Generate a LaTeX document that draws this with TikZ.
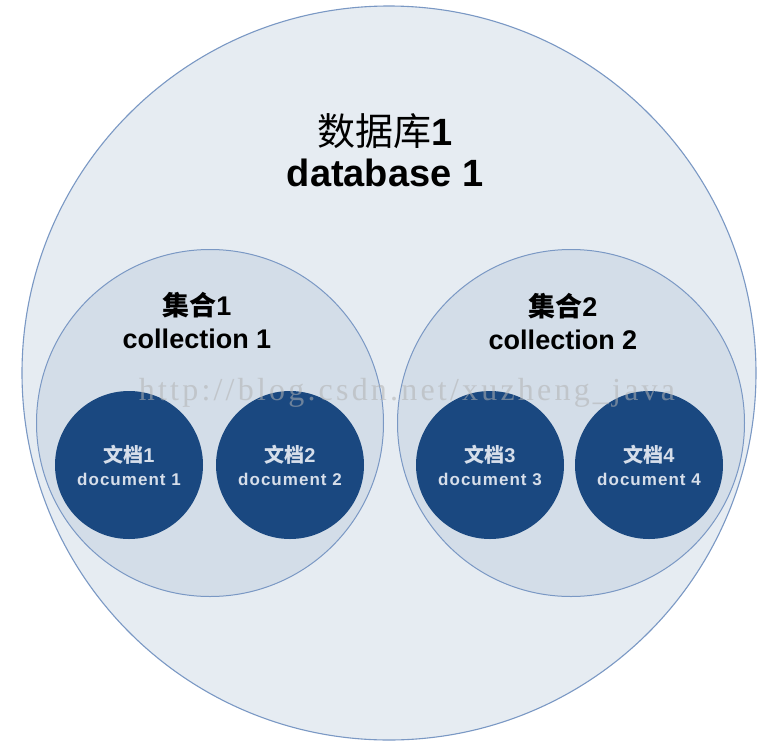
\documentclass[tikz,border=0pt]{standalone}
\usepackage{fontspec}
\setmainfont{Liberation Sans}
\newfontfamily\cjk{Noto Sans CJK SC}
\newfontfamily\docfont{Liberation Sans}[LetterSpace=6]
\newfontfamily\wmfont{Liberation Serif}[LetterSpace=10]
\usepackage{tikz}
\definecolor{dbfill}{HTML}{E6ECF2}
\definecolor{colfill}{HTML}{D3DDE8}
\definecolor{rim}{HTML}{7A98C4}
\definecolor{docfill}{HTML}{1A4880}
\definecolor{doctext}{HTML}{D6DEEA}
\tikzset{
  dbball/.style={circle, draw=rim, line width=1.1pt, fill=dbfill, minimum size=734pt},
  colball/.style={circle, draw=rim, line width=1pt, fill=colfill, minimum size=347pt},
  docball/.style={circle, fill=docfill, minimum size=148pt, inner sep=0pt,
    text=doctext, align=center, font=\fontsize{17}{23}\selectfont\docfont\bfseries},
  bigtitle/.style={font=\fontsize{38}{40}\selectfont\bfseries},
  coltitle/.style={font=\fontsize{27}{30}\selectfont\bfseries},
  watermark/.style={text=gray!60, opacity=0.55, font=\fontsize{32}{34}\selectfont\wmfont}
}

\begin{document}
\begin{tikzpicture}[x=1pt, y=-1pt]

  \useasboundingbox[fill=white] (0,0) rectangle (780,753);

  % database
  \node[dbball] (db) at (389,373) {};
  \node[bigtitle] (dbzh) at (385,131) {{\cjk\mdseries 数据库}1};
  \node[bigtitle] (dben) at (385,173) {database 1};

  % collections
  \node[colball] (col1) at (210,423) {};
  \node[colball] (col2) at (571,423) {};
  \node[coltitle] (col1zh) at (197,305) {{\cjk 集合}1};
  \node[coltitle] (col1en) at (197,339) {collection 1};
  \node[coltitle] (col2zh) at (563,306) {{\cjk 集合}2};
  \node[coltitle] (col2en) at (563,340) {collection 2};

  % documents
  \foreach \i/\x in {1/129, 2/290, 3/490, 4/649}
    \node[docball] (doc\i) at (\x,465)
      {{\fontsize{20}{23}\selectfont{\cjk 文档}\i}\\document \i};

  \node[watermark] (wm) at (407,393) {http://blog.csdn.net/xuzheng\_java};

\end{tikzpicture}
\end{document}
